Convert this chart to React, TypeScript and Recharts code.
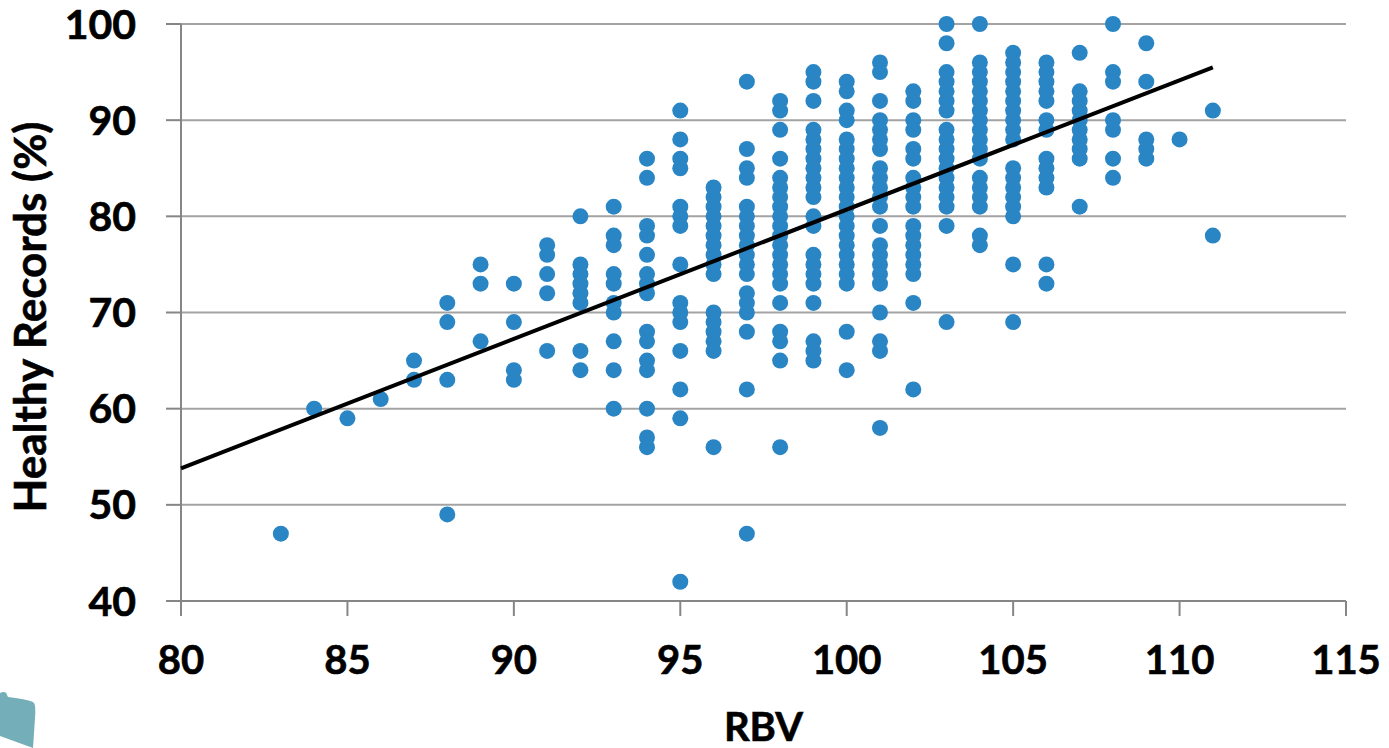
import { CartesianGrid, Scatter, ScatterChart, XAxis, YAxis } from 'recharts';

const rbvValues = [83, 84, 85, 86, 87, 88, 89, 90, 91, 92, 93, 94, 95, 96, 97, 98, 99, 100, 101, 102, 103, 104, 105, 106, 107, 108, 109, 110, 111];

// healthy records, one list for each rbv value above
const healthyRecords = [
  [47],
  [60],
  [59],
  [61],
  [65, 63],
  [71, 69, 63, 49],
  [75, 73, 67],
  [73, 69, 64, 63],
  [77, 76, 74, 72, 66],
  [80, 75, 74, 73, 72, 71, 66, 64],
  [81, 78, 77, 74, 73, 71, 70, 67, 64, 60],
  [86, 84, 79, 78, 76, 74, 73, 72, 68, 67, 65, 64, 60, 57, 56],
  [91, 88, 86, 85, 81, 80, 79, 75, 71, 70, 69, 66, 62, 59, 42],
  [83, 82, 81, 80, 79, 78, 77, 76, 75, 74, 70, 69, 68, 67, 66, 56],
  [94, 87, 85, 84, 81, 80, 79, 78, 77, 76, 75, 74, 72, 71, 70, 68, 62, 47],
  [92, 91, 89, 86, 84, 83, 82, 81, 80, 79, 78, 77, 76, 75, 74, 73, 71, 68, 67, 65, 56],
  [95, 94, 92, 89, 88, 87, 86, 85, 84, 83, 82, 80, 79, 76, 75, 74, 73, 71, 67, 66, 65],
  [94, 93, 91, 90, 88, 87, 86, 85, 84, 83, 82, 81, 80, 79, 78, 77, 76, 75, 74, 73, 68, 64],
  [96, 95, 92, 90, 89, 88, 87, 85, 84, 83, 82, 81, 79, 77, 76, 75, 74, 73, 70, 67, 66, 58],
  [93, 92, 90, 89, 87, 86, 84, 83, 82, 81, 79, 78, 77, 76, 75, 74, 71, 62],
  [100, 98, 95, 94, 93, 92, 91, 89, 88, 87, 86, 85, 84, 83, 82, 81, 79, 69],
  [100, 96, 95, 94, 93, 92, 91, 90, 89, 88, 87, 86, 84, 83, 82, 81, 78, 77],
  [97, 96, 95, 94, 93, 92, 91, 90, 89, 88, 85, 84, 83, 82, 81, 80, 75, 69],
  [96, 95, 94, 93, 92, 90, 89, 86, 85, 84, 83, 75, 73],
  [97, 93, 92, 91, 90, 89, 88, 87, 86, 81],
  [100, 95, 94, 90, 89, 86, 84],
  [98, 94, 88, 87, 86],
  [88],
  [91, 78],
];

const trendRbv = [80, 111];
const trendRecords = [53.8, 95.5];

const xTicks = [80, 85, 90, 95, 100, 105, 110, 115];
const yTicks = [40, 50, 60, 70, 80, 90, 100];

const points = rbvValues.flatMap((rbv, i) => healthyRecords[i].map((records) => ({ rbv, records })));
const trend = trendRbv.map((rbv, i) => ({ rbv, records: trendRecords[i] }));

const font = { fontFamily: 'Lato', fontWeight: 700, fill: '#000', stroke: '#000', strokeWidth: 0.6 };

const Dot = ({ cx, cy }: any) => <circle cx={cx} cy={cy} r={8} fill="#2a85c4" />;

const App = () => {
  return (
    <div style={{ position: 'absolute', left: 0, top: 0, width: 1389, height: 748, overflow: 'hidden' }}>
      <ScatterChart width={1389} height={748} margin={{ top: 24, right: 43, bottom: 47, left: 0 }}>
        <CartesianGrid horizontal vertical={false} stroke="#a3a3a3" strokeWidth={2} />
        <XAxis
          type="number"
          dataKey="rbv"
          domain={[80, 115]}
          ticks={xTicks}
          interval={0}
          height={100}
          tickSize={15}
          tickMargin={30}
          stroke="#868686"
          strokeWidth={2}
          tick={{ ...font, fontSize: 40 }}
          label={{ ...font, value: 'RBV', fontSize: 40, position: 'insideBottom', offset: -40 }}
        />
        <YAxis
          type="number"
          dataKey="records"
          domain={[40, 100]}
          ticks={yTicks}
          interval={0}
          width={181}
          tickSize={15}
          tickMargin={30}
          stroke="#868686"
          strokeWidth={2}
          tick={{ ...font, fontSize: 41 }}
          label={{ ...font, value: 'Healthy Records (%)', fontSize: 44, angle: -90, position: 'insideLeft', offset: 30, dy: 200 }}
        />
        <Scatter data={points} shape={Dot} isAnimationActive={false} />
        <Scatter data={trend} line={{ stroke: '#000', strokeWidth: 4 }} shape={() => null} isAnimationActive={false} />
      </ScatterChart>
      {/* corner of the logo that sticks into the slide */}
      <svg width={40} height={60} style={{ position: 'absolute', left: 0, top: 688 }}>
        <path d="M0 5 Q6 2 7 7 L8 9 Q32 12 34 15 Q36 18 35 30 L33 60 L0 48 Z" fill="#74aeb9" />
      </svg>
    </div>
  );
};

export default App;
